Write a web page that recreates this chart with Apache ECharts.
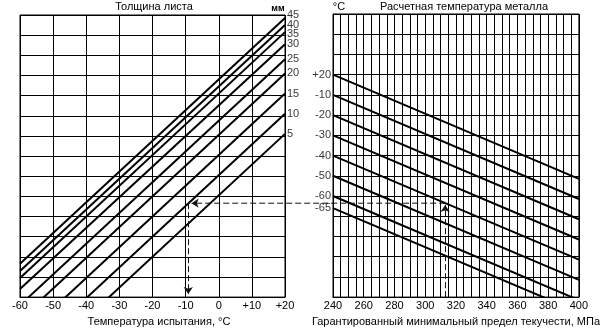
<!DOCTYPE html>
<html><head><meta charset="utf-8">
<script src="https://cdn.jsdelivr.net/npm/echarts@6/dist/echarts.min.js"></script>
<style>html,body{margin:0;padding:0;background:#fff}#c{width:603px;height:332px}</style>
</head><body><div id="c"></div>
<script>
// ---- Left panel: test temperature vs. sheet thickness ----
const tempTicks = ['-60','-50','-40','-30','-20','-10','0','+10','+20'];
const thickness = ['5','10','15','20','25','30','35','40','45'];
const thickAtMinus60 = [-4.1, -3.1, -2.1, -1.1, -0.4, 0.4, 0.95, 1.3, 1.65];
const thickAtPlus20  = [8.1, 9.1, 10.1, 11.1, 11.8, 12.55, 13.15, 13.5, 13.85];

// ---- Right panel: yield strength vs. design metal temperature ----
const mpaTicks = ['240','260','280','300','320','340','360','380','400'];
const metalTemp = ['+20','-10','-20','-30','-40','-50','-60','-65'];
const metalAt240 = [11, 10, 9, 8, 7, 6, 5, 4.4];
const metalAt400 = [5.85, 4.85, 3.85, 2.85, 1.85, 0.85, -0.15, -0.75];

// ---- Example (dashed) path ----
const exampleMPa = 313;
const exampleLevel = 4.66;
const exampleTemp = -9.2;
const exampleTempTip = -8.2;

const FONT = '"Liberation Sans", Arial, Helvetica, sans-serif';
const labelNudge = {'45': -3, '35': 2};

const chart = echarts.init(document.getElementById('c'), null, {renderer: 'canvas'});

const axisCommon = {
  axisTick: {show: false},
  axisLine: {show: true, lineStyle: {color: '#000', width: 1}},
  splitLine: {show: true, lineStyle: {color: '#000', width: 1}}
};

const dashStyle = {type: [6, 3], color: '#111', width: 1};
const markCommon = {silent: true, symbol: ['none', 'arrow'], symbolSize: 7, animation: false,
  label: {show: false}, lineStyle: dashStyle, emphasis: {disabled: true}};

const series = [];
thickness.forEach((t, i) => {
  series.push({
    type: 'line', xAxisIndex: 0, yAxisIndex: 0, symbol: 'none', silent: true,
    data: [[-60, thickAtMinus60[i]], [20, thickAtPlus20[i]]],
    lineStyle: {color: '#000', width: 2}, clip: true
  });
});
series.push({
  type: 'scatter', xAxisIndex: 0, yAxisIndex: 0, symbolSize: 0, silent: true, clip: false,
  data: thickness.map((t, i) => ({value: [20, thickAtPlus20[i]], name: t,
    label: {offset: [0, labelNudge[t] || 0]}})),
  label: {show: true, position: 'right', distance: 2, formatter: p => p.name,
    color: '#000', fontSize: 11, fontFamily: FONT}
});
metalTemp.forEach((t, i) => {
  series.push({
    type: 'line', xAxisIndex: 1, yAxisIndex: 1, symbol: 'none', silent: true,
    data: [[240, metalAt240[i]], [400, metalAt400[i]]],
    lineStyle: {color: '#000', width: 2}, clip: true
  });
});
series.push({
  type: 'scatter', xAxisIndex: 1, yAxisIndex: 1, symbolSize: 0, silent: true, clip: false,
  data: metalTemp.map((t, i) => ({value: [240, metalAt240[i]], name: t})),
  label: {show: true, position: 'left', distance: 2, formatter: p => p.name,
    color: '#000', fontSize: 11, fontFamily: FONT}
});
// dashed example path, left grid: vertical down-arrow and the left-pointing arrow head
series.push({
  id: 'exLeft', type: 'line', xAxisIndex: 0, yAxisIndex: 0, data: [], clip: false, silent: true,
  markLine: Object.assign({}, markCommon, {
    data: [
      [{coord: [exampleTemp, exampleLevel]}, {coord: [exampleTemp, 0.15]}],
      [{coord: [exampleTempTip + 1.5, exampleLevel]}, {coord: [exampleTempTip, exampleLevel]}]
    ]})
});
// dashed example path, right grid: vertical up-arrow
series.push({
  id: 'exRight', type: 'line', xAxisIndex: 1, yAxisIndex: 1, data: [], clip: false, silent: true,
  markLine: Object.assign({}, markCommon, {
    data: [[{coord: [exampleMPa, 0]}, {coord: [exampleMPa, exampleLevel - 0.1]}]]})
});

const option = {
  animation: false,
  backgroundColor: '#fff',
  textStyle: {fontFamily: FONT, color: '#000'},
  grid: [
    {left: 20, top: 15, width: 265, height: 286, show: true, borderColor: '#000', borderWidth: 1, containLabel: false},
    {left: 333, top: 14, width: 261, height: 288, show: true, borderColor: '#000', borderWidth: 1, containLabel: false}
  ],
  xAxis: [
    Object.assign({}, axisCommon, {
      type: 'value', gridIndex: 0, min: -60, max: 20, interval: 10,
      axisLabel: {margin: 3, fontSize: 11, color: '#000', fontFamily: FONT,
        formatter: v => tempTicks[Math.round((v + 60) / 10)]},
      name: 'Температура испытания, °C', nameLocation: 'middle', nameGap: 15,
      nameTextStyle: {fontSize: 11, color: '#000', fontFamily: FONT, padding: [0, 0, 0, 13]}
    }),
    Object.assign({}, axisCommon, {
      type: 'value', gridIndex: 1, min: 240, max: 400, interval: 5,
      axisLabel: {margin: 3, fontSize: 11, color: '#000', fontFamily: FONT,
        formatter: v => ((v - 240) % 20 === 0 ? mpaTicks[(v - 240) / 20] : '')},
      name: 'Гарантированный минимальный предел текучести, МПа', nameLocation: 'middle', nameGap: 14,
      nameTextStyle: {fontSize: 11, color: '#000', fontFamily: FONT}
    })
  ],
  yAxis: [
    Object.assign({}, axisCommon, {type: 'value', gridIndex: 0, min: 0, max: 14, interval: 1, axisLabel: {show: false}}),
    Object.assign({}, axisCommon, {type: 'value', gridIndex: 1, min: 0, max: 14, interval: 1, axisLabel: {show: false}})
  ],
  graphic: [
    {type: 'text', x: 154, y: 7, style: {text: 'Толщина листа', font: '11px ' + FONT, fill: '#000', textAlign: 'center', textVerticalAlign: 'middle'}},
    {type: 'text', x: 278, y: 9, style: {text: 'мм', font: 'bold 9px ' + FONT, fill: '#000', textAlign: 'center', textVerticalAlign: 'middle'}},
    {type: 'text', x: 464, y: 7, style: {text: 'Расчетная температура металла', font: '11px ' + FONT, fill: '#000', textAlign: 'center', textVerticalAlign: 'middle'}},
    {type: 'text', x: 339, y: 7, style: {text: '°C', font: '11px ' + FONT, fill: '#000', textAlign: 'center', textVerticalAlign: 'middle'}}
  ],
  series: series
};
chart.setOption(option);

// horizontal connector crossing the gap between the panels:
// both ends are placed through the library's own axis scales
const pLeft = chart.convertToPixel({xAxisIndex: 0, yAxisIndex: 0}, [exampleTempTip + 1.5, exampleLevel]);
const pRight = chart.convertToPixel({xAxisIndex: 1, yAxisIndex: 1}, [exampleMPa, exampleLevel]);
chart.setOption({graphic: [{
  id: 'connector', type: 'line', silent: true,
  shape: {x1: pRight[0], y1: pLeft[1], x2: pLeft[0], y2: pLeft[1]},
  style: {stroke: '#111', lineWidth: 1, lineDash: [6, 3]}
}]});
</script></body></html>
